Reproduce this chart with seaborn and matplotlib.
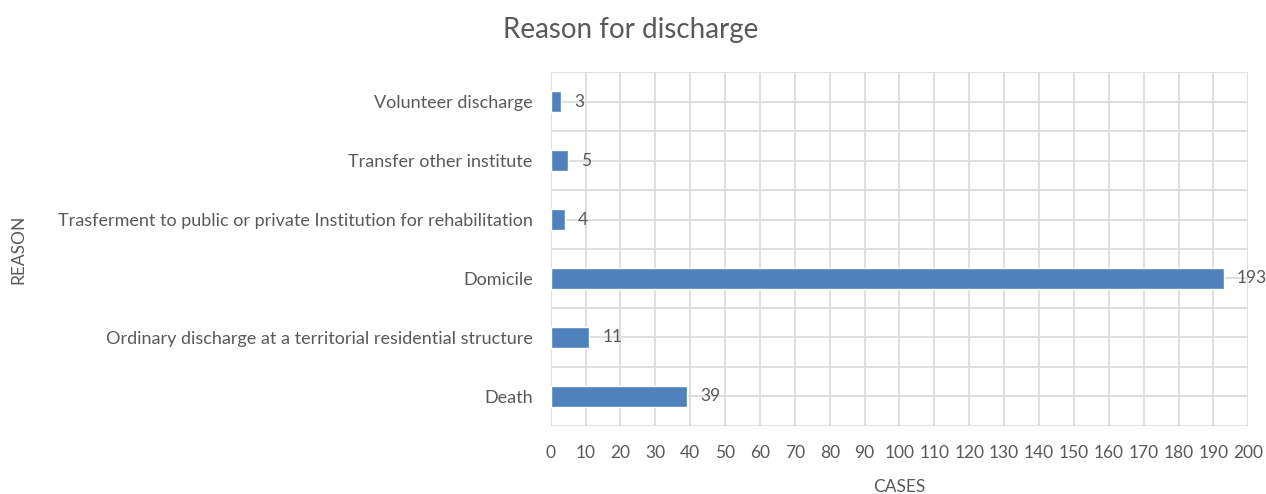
import matplotlib
matplotlib.use('Agg')
import matplotlib.pyplot as plt
import seaborn as sns
import pandas as pd
from matplotlib.ticker import MultipleLocator

# Data (top to bottom)
reasons = ['Volunteer discharge',
           'Transfer other institute',
           'Trasferment to public or private Institution for rehabilitation',
           'Domicile',
           'Ordinary discharge at a territorial residential structure',
           'Death']
cases = [3, 5, 4, 193, 11, 39]

df = pd.DataFrame({'reason': reasons, 'cases': cases})

sns.set_style('white')
plt.rcParams['font.family'] = ['Lato', 'DejaVu Sans']
text_col = '#595959'
grid_col = '#d9d9d9'
bar_col = '#4f81bd'

fig = plt.figure(figsize=(12.66, 4.94), dpi=100)
ax = fig.add_axes([0.435, 0.138, 0.551, 0.716])

sns.barplot(data=df, x='cases', y='reason', color=bar_col, width=0.36,
            saturation=1, ax=ax, zorder=3)

ax.set_xlim(0, 200)
ax.set_ylim(5.5, -0.5)
ax.xaxis.set_major_locator(MultipleLocator(10))
ax.set_yticks(range(len(reasons)))
ax.set_yticklabels(reasons)
ax.set_yticks([i + 0.5 for i in range(-1, len(reasons))], minor=True)
ax.grid(True, axis='both', which='major', color=grid_col, lw=1.2, zorder=0)
ax.grid(True, axis='y', which='minor', color=grid_col, lw=1.2, zorder=0)
ax.tick_params(axis='y', which='both', length=0, labelsize=13, colors=text_col, pad=13)
ax.tick_params(axis='x', which='both', length=0, labelsize=12.5, colors=text_col, pad=14)

for s in ax.spines.values():
    s.set_visible(False)

# value labels just past the bar ends
for i, v in enumerate(cases):
    ax.annotate(str(v), (v, i), xytext=(9.5, 0), textcoords='offset points',
                va='center', ha='left', fontsize=12.5, color=text_col,
                annotation_clip=False)

ax.set_xlabel('CASES', fontsize=12.5, color=text_col)
ax.xaxis.set_label_coords(0.5, -0.15)
ax.set_ylabel('REASON', fontsize=12.5, color=text_col)
ax.yaxis.set_label_coords(-0.752, 0.5)

fig.text(0.498, 0.94, 'Reason for discharge', ha='center', va='center',
         fontsize=20, color=text_col)

fig.savefig('out.png', dpi=100, facecolor='white')
